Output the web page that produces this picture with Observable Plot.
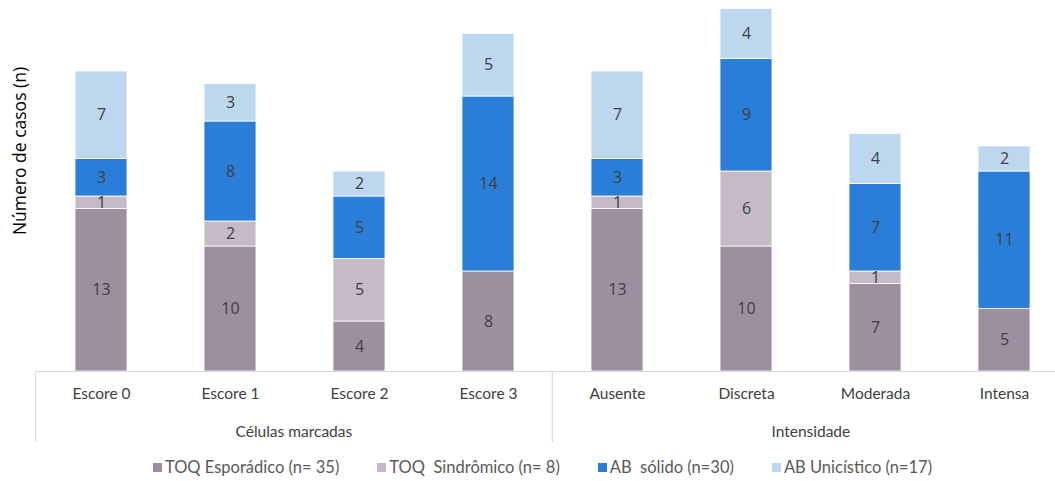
<!DOCTYPE html>
<html>
<head>
<meta charset="utf-8">
<script src="https://cdn.jsdelivr.net/npm/d3@7"></script>
<script src="https://cdn.jsdelivr.net/npm/@observablehq/plot@0.6"></script>
<style>
  html, body { margin: 0; padding: 0; background: #fff; }
  #wrap { position: relative; width: 1055px; height: 481px; overflow: hidden; }
  #legend { position: absolute; left: 0; top: 457px; width: 1055px; display: flex; justify-content: center;
    gap: 38px; font-family: Lato, sans-serif; font-size: 16.5px; color: #595959; padding-left: 30px; box-sizing: border-box; }
  #legend .it { display: flex; align-items: center; white-space: pre; }
  #legend .sw { width: 9px; height: 9px; margin-right: 3px; }
</style>
</head>
<body>
<div id="wrap"></div>
<script>
const categories = ["Escore 0", "Escore 1", "Escore 2", "Escore 3", "Ausente", "Discreta", "Moderada", "Intensa"];
const groups = ["Células marcadas", "Células marcadas", "Células marcadas", "Células marcadas", "Intensidade", "Intensidade", "Intensidade", "Intensidade"];
const seriesNames = ["TOQ Esporádico (n= 35)", "TOQ  Sindrômico (n= 8)", "AB  sólido (n=30)", "AB Unicístico (n=17)"];
const seriesColors = ["#9e8fa0", "#c4bbc7", "#2a7ed7", "#bdd7ee"];
const esporadico = [13, 10, 4, 8, 13, 10, 7, 5];
const sindromico = [1, 2, 5, 0, 1, 6, 1, 0];
const solido = [3, 8, 5, 14, 3, 9, 7, 11];
const unicistico = [7, 3, 2, 5, 7, 4, 4, 2];
const yTitle = "Número de casos (n)";

const seriesValues = [esporadico, sindromico, solido, unicistico];
const data = [];
seriesNames.forEach((s, i) => {
  categories.forEach((c, j) => {
    data.push({series: s, cat: c, value: seriesValues[i][j]});
  });
});
const nonzero = data.filter(d => d.value > 0);

const plot = Plot.plot({
  width: 1055,
  height: 450,
  marginLeft: 35,
  marginRight: 0,
  marginTop: 0,
  marginBottom: 79,
  style: {fontFamily: "Lato, sans-serif", background: "#fff", overflow: "visible"},
  x: {domain: categories, range: [35.4, 1069.3], paddingInner: 0.6, paddingOuter: 0.3, label: null, tickSize: 0, tickPadding: 16},
  y: {domain: [0, 24], range: [371, 71], axis: null},
  color: {domain: seriesNames, range: seriesColors},
  marks: [
    Plot.barY(nonzero, {x: "cat", y: "value", fill: "series", stroke: "#fff", strokeWidth: 0.8, order: seriesNames}),
    Plot.text(nonzero, Plot.stackY({x: "cat", y: "value", z: "series", text: d => String(d.value), order: seriesNames, fill: "#404040", fontSize: 16, fontFamily: "'Open Sans', sans-serif"})),
    Plot.ruleY([0], {stroke: "#d9d9d9", strokeWidth: 1})
  ]
});

const svg = d3.select(plot);
svg.selectAll("g[aria-label='x-axis tick label']").attr("font-size", 15.5).attr("fill", "#404040");

const xs = plot.scale("x");
const sx = Plot.scale({x: {type: "band", domain: xs.domain, range: xs.range, paddingInner: 0.6, paddingOuter: 0.3}});
const step = sx.step;
const yPix = 371;

const uniqueGroups = Array.from(new Set(groups));
const g = svg.append("g");
uniqueGroups.forEach(gr => {
  const cats = categories.filter((c, i) => groups[i] === gr);
  const first = sx.apply(cats[0]) + sx.bandwidth / 2 - step / 2;
  const last = sx.apply(cats[cats.length - 1]) + sx.bandwidth / 2 + step / 2;
  g.append("line").attr("x1", first).attr("x2", first).attr("y1", yPix).attr("y2", 442)
    .attr("stroke", "#d9d9d9");
  g.append("line").attr("x1", last).attr("x2", last).attr("y1", yPix).attr("y2", 442)
    .attr("stroke", "#d9d9d9");
  g.append("text").attr("x", (first + last) / 2).attr("y", 432).attr("dy", "0.32em")
    .attr("text-anchor", "middle").attr("font-size", 15.5).attr("fill", "#404040")
    .attr("font-family", "Lato, sans-serif").text(gr);
});

svg.append("text").attr("transform", "translate(20,151) rotate(-90)")
  .attr("text-anchor", "middle").attr("dy", "0.32em").attr("font-size", 17.5)
  .attr("font-family", "'Open Sans', sans-serif").attr("fill", "#000").text(yTitle);

const wrap = document.getElementById("wrap");
wrap.appendChild(plot);

const legend = document.createElement("div");
legend.id = "legend";
seriesNames.forEach((s, i) => {
  const it = document.createElement("div");
  it.className = "it";
  const sw = document.createElement("span");
  sw.className = "sw";
  sw.style.background = seriesColors[i];
  const t = document.createElement("span");
  t.textContent = s;
  it.appendChild(sw); it.appendChild(t);
  legend.appendChild(it);
});
wrap.appendChild(legend);
</script>
</body>
</html>
